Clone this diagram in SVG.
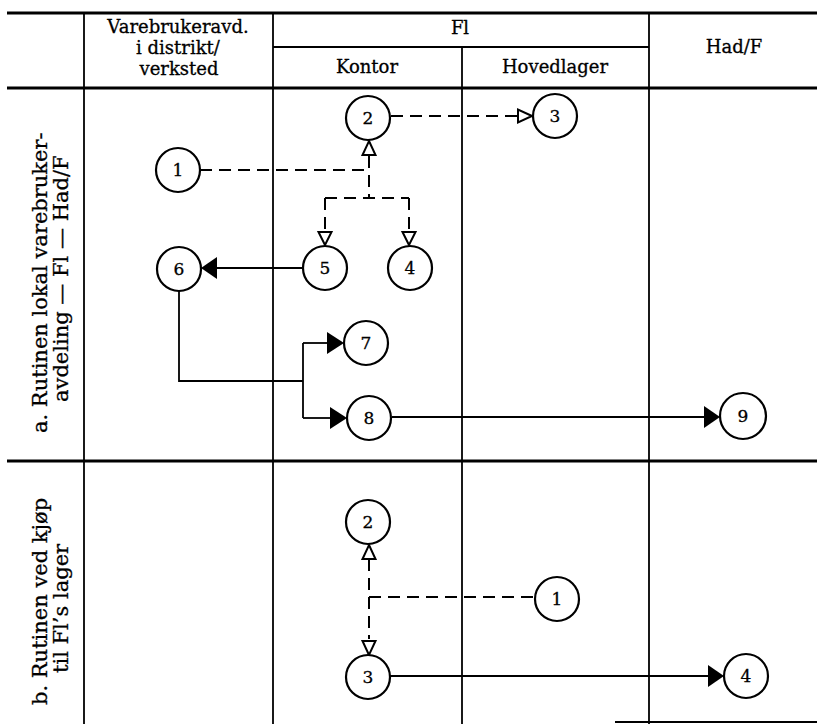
<svg xmlns="http://www.w3.org/2000/svg" width="817" height="724" viewBox="0 0 817 724">
  <defs>
    <style>
      .grid { stroke: #000; stroke-width: 1.8; fill: none; }
      .thick { stroke: #000; stroke-width: 3; fill: none; }
      .txt { font-family: "DejaVu Serif", "Liberation Serif", serif; font-size: 18px; fill: #000; stroke: #000; stroke-width: 0.3; }
      .side { font-size: 21px; }
      .hd { text-anchor: middle; }
      .node circle { fill: #fff; stroke: #000; stroke-width: 2.2; }
      .node text { font-family: "DejaVu Serif", "Liberation Serif", serif; font-size: 17px; text-anchor: middle; fill: #000; stroke: #000; stroke-width: 0.3; }
      .solid { stroke: #000; stroke-width: 1.8; fill: none; }
      .dash { stroke: #000; stroke-width: 2; fill: none; stroke-dasharray: 12 7; }
      .open { fill: #fff; stroke: #000; stroke-width: 2; }
      .fill { fill: #000; stroke: none; }
    </style>
  </defs>
  <rect width="817" height="724" fill="#fff"/>

  <!-- table frame -->
  <g id="table">
    <line class="thick" x1="7" y1="13" x2="817" y2="13"/>
    <line class="thick" x1="7" y1="88" x2="817" y2="88"/>
    <line class="grid" x1="273" y1="47" x2="649" y2="47"/>
    <line class="thick" x1="7" y1="461" x2="817" y2="461"/>
    <line class="grid" x1="615" y1="722" x2="817" y2="722"/>
    <line class="grid" x1="84" y1="13" x2="84" y2="724"/>
    <line class="grid" x1="273" y1="13" x2="273" y2="724"/>
    <line class="grid" x1="462" y1="47" x2="462" y2="724"/>
    <line class="grid" x1="649" y1="13" x2="649" y2="724"/>
  </g>

  <!-- column headings -->
  <g id="headings" class="txt hd">
    <text x="178" y="33">Varebrukeravd.</text>
    <text x="178" y="54">i distrikt/</text>
    <text x="179" y="75">verksted</text>
    <text x="460" y="34">Fl</text>
    <text x="367" y="73">Kontor</text>
    <text x="555" y="73">Hovedlager</text>
    <text x="734" y="53">Had/F</text>
  </g>

  <!-- row headings -->
  <g id="row-a" class="txt side">
    <text transform="translate(47,433) rotate(-90)">a.  Rutinen lokal varebruker-</text>
    <text transform="translate(68,402) rotate(-90)">avdeling — Fl — Had/F</text>
  </g>
  <g id="row-b" class="txt side">
    <text transform="translate(47,705) rotate(-90)">b.  Rutinen ved kjøp</text>
    <text transform="translate(68,673) rotate(-90)">til Fl’s lager</text>
  </g>

  <!-- connectors -->
  <g id="connectors">
    <!-- routine a -->
    <path class="dash" d="M200,170 H369"/>
    <path class="dash" d="M369,156 V198"/>
    <path class="dash" d="M325,198 H409"/>
    <path class="dash" d="M325,198 V232"/>
    <path class="dash" d="M409,198 V232"/>
    <path class="dash" d="M391,116 H518"/>
    <polygon class="open" points="369,141 375.5,155 362.5,155"/>
    <polygon class="open" points="325,245 318.5,232 331.5,232"/>
    <polygon class="open" points="409,245 402.5,232 415.5,232"/>
    <polygon class="open" points="532,116 518,109.5 518,122.5"/>

    <path class="solid" d="M303,268 H216"/>
    <polygon class="fill" points="201,268 217,257 217,279"/>
    <path class="solid" d="M179,291 V381 H303"/>
    <path class="solid" d="M303,343 V418"/>
    <path class="solid" d="M303,343 H328"/>
    <polygon class="fill" points="344,343 327,332 327,354"/>
    <path class="solid" d="M303,418 H331"/>
    <polygon class="fill" points="347,418 330,407 330,429"/>
    <path class="solid" d="M392,417 H705"/>
    <polygon class="fill" points="720,417 704,406 704,428"/>

    <!-- routine b -->
    <path class="dash" d="M369,559 V639"/>
    <path class="dash" d="M369,597 H535"/>
    <polygon class="open" points="369,545 375.5,559 362.5,559"/>
    <polygon class="open" points="369,655 362.5,641 375.5,641"/>
    <path class="solid" d="M390,676 H709"/>
    <polygon class="fill" points="724,676 708,665 708,687"/>
  </g>

  <!-- nodes, routine a -->
  <g id="a1" class="node"><circle cx="178" cy="170" r="22"/><text x="178" y="176">1</text></g>
  <g id="a2" class="node"><circle cx="368" cy="118" r="22"/><text x="368" y="124">2</text></g>
  <g id="a3" class="node"><circle cx="555" cy="116" r="22"/><text x="555" y="122">3</text></g>
  <g id="a4" class="node"><circle cx="410" cy="268" r="22"/><text x="410" y="274">4</text></g>
  <g id="a5" class="node"><circle cx="325" cy="268" r="22"/><text x="325" y="274">5</text></g>
  <g id="a6" class="node"><circle cx="179" cy="269" r="22"/><text x="179" y="275">6</text></g>
  <g id="a7" class="node"><circle cx="366" cy="343" r="22"/><text x="366" y="349">7</text></g>
  <g id="a8" class="node"><circle cx="369" cy="418" r="22"/><text x="369" y="424">8</text></g>
  <g id="a9" class="node"><circle cx="743" cy="416" r="23"/><text x="743" y="422">9</text></g>

  <!-- nodes, routine b -->
  <g id="b1" class="node"><circle cx="557" cy="599" r="22"/><text x="557" y="605">1</text></g>
  <g id="b2" class="node"><circle cx="368" cy="522" r="22"/><text x="368" y="528">2</text></g>
  <g id="b3" class="node"><circle cx="368" cy="677" r="22"/><text x="368" y="683">3</text></g>
  <g id="b4" class="node"><circle cx="746" cy="676" r="22"/><text x="746" y="682">4</text></g>
</svg>
